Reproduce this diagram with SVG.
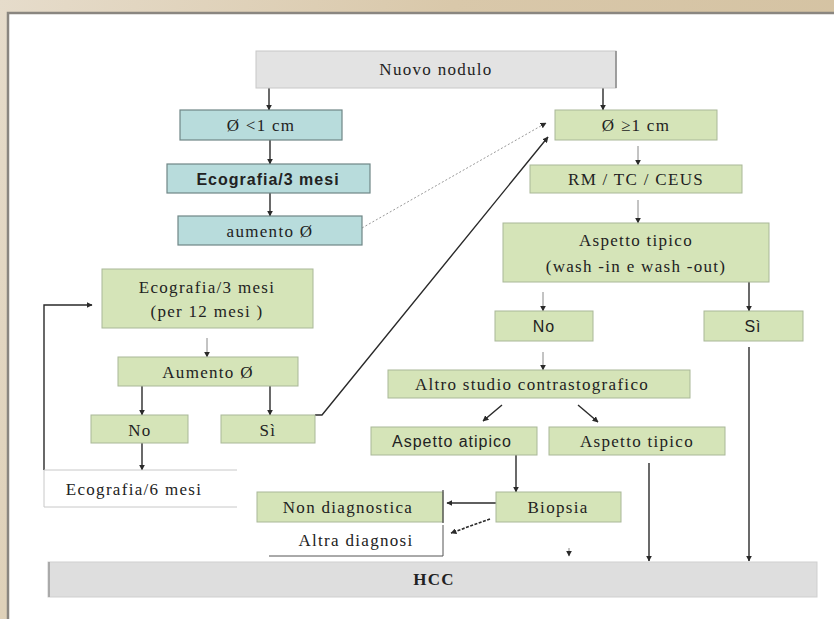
<svg xmlns="http://www.w3.org/2000/svg" width="834" height="619" viewBox="0 0 834 619">
<defs>
<linearGradient id="bg" x1="0" y1="0" x2="1" y2="0.3">
<stop offset="0" stop-color="#e6dccb"/>
<stop offset="0.5" stop-color="#d9c8aa"/>
<stop offset="1" stop-color="#d4c2a2"/>
</linearGradient>
<marker id="ah" viewBox="0 0 10 10" refX="9" refY="5" markerWidth="6" markerHeight="6" orient="auto" markerUnits="userSpaceOnUse">
<path d="M0,0 L10,5 L0,10 z" fill="#2a2a2a"/>
</marker>
<marker id="ahg" viewBox="0 0 10 10" refX="9" refY="5" markerWidth="6" markerHeight="6" orient="auto" markerUnits="userSpaceOnUse">
<path d="M0,0 L10,5 L0,10 z" fill="#666"/>
</marker>
</defs>
<style>
.t{font-family:"Liberation Serif","Times New Roman",serif;font-size:17px;letter-spacing:1.3px;fill:#222;text-anchor:middle}
.s{font-family:"Liberation Sans",Arial,sans-serif;font-size:16px;letter-spacing:1px;fill:#222;text-anchor:middle}
.b{font-weight:bold}
.cy{fill:#b8dcdc;stroke:#6f8686;stroke-width:1.2}
.gr{fill:#d5e4b8;stroke:#a9b898;stroke-width:1}
.gy{fill:#e3e3e3;stroke:#c8c8c8;stroke-width:1}
.c{stroke:#2a2a2a;stroke-width:1.4;fill:none;marker-end:url(#ah)}
.cl{stroke:#888;stroke-width:1;fill:none;marker-end:url(#ah)}
</style>
<rect x="0" y="0" width="834" height="619" fill="url(#bg)"/>
<rect x="8" y="13" width="830" height="610" fill="#ffffff" stroke="#8a8680" stroke-width="2.5"/>

<g id="connectors">
<line class="c" x1="269" y1="88" x2="269" y2="110"/>
<line class="c" x1="603" y1="88" x2="603" y2="110"/>
<line class="c" x1="270" y1="140" x2="270" y2="164"/>
<line class="c" x1="270" y1="193" x2="270" y2="216"/>
<line x1="362" y1="228" x2="546" y2="123" stroke="#999" stroke-width="1" stroke-dasharray="2,2" marker-end="url(#ah)"/>
<polyline class="c" points="315,415 322,415 548,137" stroke-width="1.8"/>
<line class="cl" x1="638" y1="146" x2="638" y2="165"/>
<line class="cl" x1="638" y1="200" x2="638" y2="223"/>
<line class="cl" x1="207" y1="338" x2="207" y2="357"/>
<line class="c" x1="142" y1="386" x2="142" y2="415"/>
<line class="c" x1="270" y1="386" x2="270" y2="415"/>
<line class="c" x1="142" y1="443" x2="142" y2="470"/>
<polyline class="c" points="44,470 44,305 92,305" stroke="#555"/>
<line class="cl" x1="543" y1="292" x2="543" y2="311"/>
<line class="c" x1="749" y1="282" x2="749" y2="311" stroke="#555"/>
<line class="cl" x1="543" y1="352" x2="543" y2="370"/>
<line class="c" x1="502" y1="405" x2="483" y2="421" stroke-width="1"/>
<line class="c" x1="578" y1="405" x2="598" y2="422" stroke-width="1"/>
<line class="c" x1="516" y1="455" x2="516" y2="492"/>
<line class="c" x1="496" y1="503" x2="447" y2="503" stroke-width="1"/>
<line x1="490" y1="519" x2="451" y2="533" stroke="#2a2a2a" stroke-width="1.6" stroke-dasharray="3,1.5" marker-end="url(#ah)"/>
<line class="c" x1="649" y1="463" x2="649" y2="561" stroke="#555" stroke-width="1.6" marker-end="url(#ahg)"/>
<line class="c" x1="749" y1="347" x2="749" y2="561" stroke="#666" stroke-width="2.2" marker-end="url(#ahg)"/>
<line class="cl" x1="569" y1="548" x2="569" y2="556"/>
</g>

<g id="n-nuovo"><rect class="gy" x="256" y="51" width="360" height="37"/><line x1="616" y1="51" x2="616" y2="88" stroke="#888" stroke-width="1.5"/><text class="t" x="436" y="75">Nuovo nodulo</text></g>
<g id="n-lt1"><rect class="cy" x="180" y="110" width="162" height="30"/><text class="t" x="261" y="131">Ø &lt;1 cm</text></g>
<g id="n-eco3"><rect class="cy" x="167" y="164" width="203" height="29"/><text class="s b" x="268" y="185">Ecografia/3  mesi</text></g>
<g id="n-aum1"><rect class="cy" x="178" y="216" width="184" height="29"/><text class="t" x="270" y="237">aumento  Ø</text></g>
<g id="n-ge1"><rect class="gr" x="555" y="110" width="162" height="30" stroke="#7e8a70"/><text class="t" x="636" y="131">Ø ≥1 cm</text></g>
<g id="n-rm"><rect class="gr" x="530" y="165" width="212" height="28"/><text class="t" x="636" y="185">RM / TC / CEUS</text></g>
<g id="n-asp"><rect class="gr" x="503" y="223" width="266" height="59"/><text class="t" x="636" y="246">Aspetto  tipico</text><text class="t" x="636" y="272">(wash -in e wash  -out)</text></g>
<g id="n-eco12"><rect class="gr" x="102" y="269" width="211" height="59"/><text class="t" x="207" y="293">Ecografia/3  mesi</text><text class="t" x="207" y="317">(per 12  mesi )</text></g>
<g id="n-aum2"><rect class="gr" x="118" y="357" width="180" height="29"/><text class="t" x="208" y="378">Aumento  Ø</text></g>
<g id="n-no1"><rect class="gr" x="91" y="415" width="97" height="28"/><text class="t" x="140" y="436">No</text></g>
<g id="n-si1"><rect class="gr" x="221" y="415" width="94" height="28"/><text class="t" x="268" y="436">Sì</text></g>
<g id="n-eco6"><path d="M237,470 L44,470 L44,507 L237,507" fill="#fff" stroke="#c8c8c8" stroke-width="1"/><text class="t" x="134" y="495">Ecografia/6   mesi</text></g>
<g id="n-no2"><rect class="gr" x="495" y="311" width="98" height="30"/><text class="s" x="544" y="332">No</text></g>
<g id="n-si2"><rect class="gr" x="704" y="311" width="99" height="30"/><text class="s" x="753" y="332">Sì</text></g>
<g id="n-altro"><rect class="gr" x="388" y="370" width="302" height="28"/><text class="t" x="532" y="390">Altro studio  contrastografico</text></g>
<g id="n-atip"><rect class="gr" x="371" y="427" width="166" height="28"/><text class="s" x="452" y="447">Aspetto atipico</text></g>
<g id="n-tip"><rect class="gr" x="549" y="427" width="176" height="28"/><text class="t" x="637" y="447">Aspetto  tipico</text></g>
<g id="n-biop"><rect class="gr" x="496" y="492" width="125" height="30"/><text class="t" x="558" y="513">Biopsia</text></g>
<g id="n-nondiag"><rect class="gr" x="257" y="492" width="186" height="30"/><line x1="443" y1="490" x2="443" y2="523" stroke="#444" stroke-width="1.2"/><text class="t" x="348" y="513">Non  diagnostica</text></g>
<g id="n-altra"><path d="M269,556 L443,556 L443,525" fill="none" stroke="#555" stroke-width="1"/><text class="t" x="356" y="546">Altra diagnosi</text></g>
<g id="n-hcc"><rect x="48" y="562" width="769" height="35" fill="#dedede" stroke="#cfcfcf" stroke-width="1"/><line x1="49" y1="562" x2="49" y2="597" stroke="#aaa" stroke-width="2"/><text class="t b" x="434" y="585" font-size="16">HCC</text></g>
</svg>
